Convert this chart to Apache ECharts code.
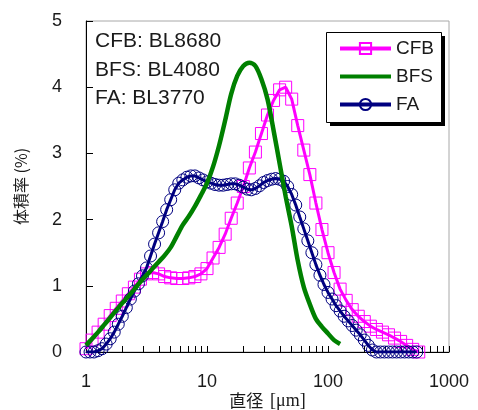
<!DOCTYPE html>
<html>
<head>
<meta charset="utf-8">
<script src="https://cdn.jsdelivr.net/npm/echarts@6/dist/echarts.min.js"></script>
<style>
html,body{margin:0;padding:0;background:#fff;}
#chart{width:478px;height:410px;}
</style>
</head>
<body>
<div id="chart"></div>
<script>
// ---- data (diameter in µm, volume fraction in %) ----
const seriesNames = ['CFB', 'BFS', 'FA'];
const annotationLines = ['CFB: BL8680', 'BFS: BL4080', 'FA: BL3770'];
const xTickLabels = [1, 10, 100, 1000];
const yTickLabels = [0, 1, 2, 3, 4, 5];

const diamCFB = [1.000,1.122,1.259,1.413,1.585,1.778,1.995,2.239,2.512,2.818,
  3.162,3.548,3.981,4.467,5.012,5.623,6.310,7.079,7.943,8.913,
  10.00,11.22,12.59,14.13,15.85,17.78,19.95,22.39,25.12,28.18,
  31.62,35.48,39.81,44.67,50.12,56.23,63.10,70.79,79.43,89.13,
  100.0,112.2,125.9,141.3,158.5,177.8,199.5,223.9,251.2,281.8,
  316.2,354.8,398.1,446.7,501.2,562.3];
const valCFB = [0.05,0.18,0.3,0.42,0.55,0.66,0.77,0.88,0.98,1.1,
  1.18,1.2,1.18,1.14,1.12,1.11,1.11,1.12,1.14,1.18,
  1.26,1.42,1.58,1.78,2.02,2.25,2.5,2.78,3.02,3.3,
  3.58,3.8,3.96,4.0,3.82,3.42,3.05,2.68,2.25,1.85,
  1.5,1.2,0.95,0.78,0.64,0.54,0.46,0.39,0.34,0.3,
  0.26,0.21,0.16,0.1,0.04,0];

const diamBFS = [1.000,1.122,1.259,1.413,1.585,1.778,1.995,2.239,2.512,2.818,
  3.162,3.548,3.981,4.467,5.012,5.623,6.310,7.079,7.943,8.913,
  10.00,11.22,12.59,14.13,15.85,17.78,19.95,22.39,25.12,28.18,
  31.62,35.48,39.81,44.67,50.12,56.23,63.10,70.79,79.43,89.13,
  100.0,112.2,125.9];
const valBFS = [0.1,0.2,0.3,0.41,0.52,0.63,0.74,0.84,0.95,1.06,
  1.16,1.26,1.36,1.46,1.58,1.75,1.92,2.05,2.2,2.37,
  2.55,2.8,3.12,3.5,3.9,4.17,4.32,4.37,4.32,4.12,
  3.82,3.35,2.85,2.35,1.9,1.38,0.98,0.72,0.5,0.38,
  0.28,0.18,0.12];

const diamFA = [1.000,1.080,1.166,1.259,1.359,1.468,1.585,1.711,1.848,1.995,
  2.154,2.326,2.512,2.712,2.929,3.162,3.415,3.687,3.981,4.299,
  4.642,5.012,5.412,5.843,6.310,6.813,7.356,7.943,8.577,9.261,
  10.00,10.80,11.66,12.59,13.59,14.68,15.85,17.11,18.48,19.95,
  21.54,23.26,25.12,27.12,29.29,31.62,34.15,36.87,39.81,42.99,
  46.42,50.12,54.12,58.43,63.10,68.13,73.56,79.43,85.77,92.61,
  100.0,108.0,116.6,125.9,135.9,146.8,158.5,171.1,184.8,199.5,
  215.4,232.6,251.2,271.2,292.9,316.2,341.5,368.7,398.1,429.9,
  464.2,501.2,541.2];
const valFA = [0,0,0,0.02,0.05,0.12,0.2,0.3,0.42,0.54,
  0.67,0.8,0.92,1.03,1.15,1.27,1.45,1.63,1.8,1.97,
  2.15,2.3,2.45,2.55,2.6,2.64,2.66,2.66,2.63,2.6,
  2.57,2.55,2.53,2.52,2.52,2.53,2.54,2.54,2.52,2.49,
  2.46,2.45,2.47,2.51,2.56,2.59,2.61,2.62,2.61,2.58,
  2.5,2.38,2.22,2.04,1.86,1.68,1.5,1.32,1.16,1.02,
  0.9,0.8,0.7,0.62,0.54,0.47,0.4,0.33,0.26,0.18,
  0.1,0.03,0,0,0,0,0,0,0,0,
  0,0,0];

// tick positions on the log axis (1..9 per decade)
const xTickValues = [1,2,3,4,5,6,7,8,9,10,20,30,40,50,60,70,80,90,100,200,300,400,500,600,700,800,900,1000];

const zip = (xs, ys) => xs.map((x, i) => [x, ys[i]]);
const TXT = '#1a1a1a';
const FONT = 'Liberation Sans, Arial, sans-serif';

const chart = echarts.init(document.getElementById('chart'), null, {renderer: 'canvas'});
chart.setOption({
  animation: false,
  backgroundColor: '#fff',
  grid: {left: 86, right: 29, top: 21, bottom: 58, show: true, borderColor: '#a8a8a8', borderWidth: 1, outerBoundsMode: 'none'},
  xAxis: {
    type: 'log', logBase: 10, min: 1, max: 1000,
    name: '{a|直径}  {b|[μm]}', nameLocation: 'middle', nameGap: 40, nameMoveOverlap: false,
    nameTextStyle: {rich: {
      a: {fontFamily: 'Noto Sans CJK JP', fontSize: 17, color: TXT},
      b: {fontFamily: 'Liberation Serif', fontSize: 18, color: TXT}
    }},
    axisLine: {show: true, lineStyle: {color: '#000', width: 1}},
    axisTick: {show: true, inside: true, length: 6, lineStyle: {color: '#000'}, customValues: xTickValues},
    axisLabel: {show: true, margin: 21, fontSize: 18, fontFamily: FONT, color: TXT, customValues: xTickLabels,
      formatter: v => String(Math.round(v))},
    splitLine: {show: false}, minorTick: {show: false}
  },
  yAxis: {
    type: 'value', min: 0, max: 5, interval: 1,
    name: '体積率 (%)', nameLocation: 'middle', nameGap: 57, nameRotate: 90, nameMoveOverlap: false,
    nameTextStyle: {fontFamily: 'Noto Sans CJK JP', fontSize: 16, color: TXT},
    axisLine: {show: true, lineStyle: {color: '#000', width: 1}},
    axisTick: {show: true, inside: true, length: 7, lineStyle: {color: '#000'}},
    axisLabel: {margin: 24, fontSize: 18, fontFamily: FONT, color: TXT,
      formatter: v => String(yTickLabels[Math.round(v)])},
    splitLine: {show: false}
  },
  legend: {
    orient: 'vertical', left: 338, top: 39, z: 20,
    data: [
      {name: seriesNames[0]},
      {name: seriesNames[1], itemStyle: {color: 'rgba(0,0,0,0)', borderWidth: 0}},
      {name: seriesNames[2]}
    ],
    itemWidth: 51, itemHeight: 14, itemGap: 9,
    padding: 0,
    lineStyle: {width: 4},
    textStyle: {fontSize: 19, fontFamily: FONT, color: TXT}
  },
  graphic: [
    {type: 'rect', z: 15, shape: {x: 330, y: 36, width: 115, height: 90}, style: {fill: '#000'}, silent: true},
    {type: 'rect', z: 16, shape: {x: 326.5, y: 32.5, width: 115, height: 90}, style: {fill: '#fff', stroke: '#000', lineWidth: 1}, silent: true},
    {
      type: 'text', left: 95, top: 27, z: 100,
      style: {text: annotationLines.join('\n'), font: '21px Liberation Sans, Arial, sans-serif', lineHeight: 28.5, fill: TXT}
    }
  ],
  series: [
    {
      name: seriesNames[0], type: 'line', data: zip(diamCFB, valCFB), z: 2,
      symbol: 'rect', symbolSize: 12, showAllSymbol: true,
      itemStyle: {color: 'rgba(255,0,255,0)', borderColor: '#ff00ff', borderWidth: 1},
      lineStyle: {color: '#ff00ff', width: 3}
    },
    {
      name: seriesNames[2], type: 'line', data: zip(diamFA, valFA), z: 3,
      symbol: 'circle', symbolSize: 12, showAllSymbol: true,
      itemStyle: {color: 'rgba(0,0,128,0)', borderColor: '#000080', borderWidth: 1},
      lineStyle: {color: '#000080', width: 3}
    },
    {
      name: seriesNames[1], type: 'line', data: zip(diamBFS, valBFS), z: 4,
      symbol: 'none', smooth: 0.3,
      itemStyle: {color: '#008000'},
      lineStyle: {color: '#008000', width: 4.5}
    }
  ]
});
</script>
</body>
</html>
